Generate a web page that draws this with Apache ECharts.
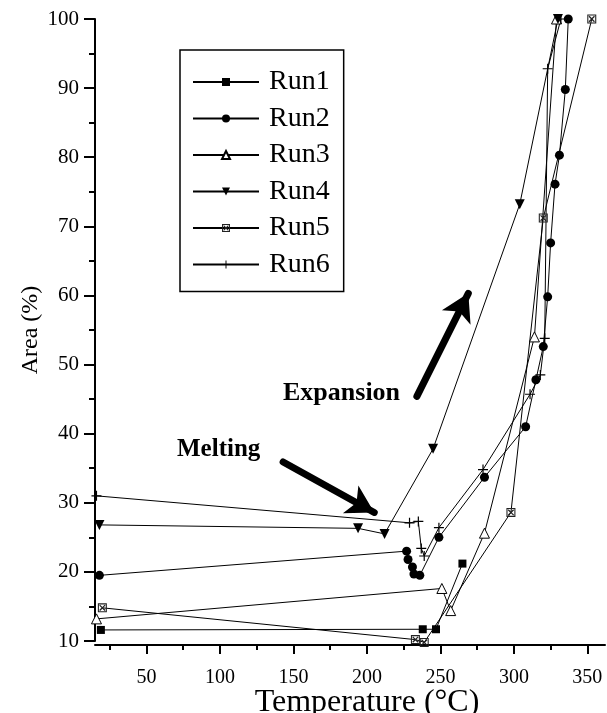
<!DOCTYPE html>
<html>
<head>
<meta charset="utf-8">
<script src="https://cdn.jsdelivr.net/npm/echarts@6/dist/echarts.min.js"></script>
<style>
  html, body { margin: 0; padding: 0; background: #fff; }
  #chart { width: 607px; height: 713px; }
</style>
</head>
<body>
<div id="chart"></div>
<script>
// temperatures (°C) and area (%) per run
const run1T = [19, 238, 247, 265];
const run1A = [11.6, 11.7, 11.7, 21.2];
const run2T = [18, 227, 228, 231, 232, 236, 249, 280, 308, 315, 320, 323, 325, 328, 331, 335, 337];
const run2A = [19.5, 23.0, 21.8, 20.7, 19.7, 19.5, 25.0, 33.7, 41.0, 47.8, 52.6, 59.8, 67.6, 76.1, 80.3, 89.8, 100];
const run3T = [16, 251, 257, 280, 314, 329];
const run3A = [13.2, 17.6, 14.4, 25.6, 54.0, 100];
const run4T = [18, 194, 212, 245, 304, 330];
const run4A = [26.8, 26.3, 25.5, 37.8, 73.2, 100];
const run5T = [20, 233, 239, 298, 320, 353];
const run5A = [14.8, 10.2, 9.8, 28.6, 71.2, 100];
const run6T = [16, 229, 235, 237, 239, 249, 279, 311, 318, 321, 323, 332];
const run6A = [31.0, 27.1, 27.3, 23.4, 22.3, 26.4, 34.8, 45.7, 48.5, 53.8, 92.8, 100];

const runNames = ['Run1', 'Run2', 'Run3', 'Run4', 'Run5', 'Run6'];
const xMajorTicks = [50, 100, 150, 200, 250, 300, 350];
const xMinorTicks = [25, 75, 125, 175, 225, 275, 325];

// arrows: [from, to] in data coords
const meltArrow = [[143, 35.9], [205, 28.6]];
const expandArrow = [[234, 45.4], [269, 60.3]];

const FONT = '"Liberation Serif", "DejaVu Serif", serif';

function pairs(xs, ys) {
  return xs.map((x, i) => [x, ys[i]]);
}

const chart = echarts.init(document.getElementById('chart'));

const baseSeries = {
  type: 'line',
  clip: false,
  lineStyle: { color: '#000', width: 1 },
  itemStyle: { color: '#000' },
  emphasis: { disabled: true }
};

const plusPath = 'path://M4.4,0H5.6V4.4H10V5.6H5.6V10H4.4V5.6H0V4.4H4.4Z';
// hatched box: square ring with an X inside
const boxXPath = 'path://M0,0H10V10H0Z M1.2,1.2V8.8H8.8V1.2Z ' +
  'M1.5,2.5L2.5,1.5L5,4L7.5,1.5L8.5,2.5L6,5L8.5,7.5L7.5,8.5L5,6L2.5,8.5L1.5,7.5L4,5Z';

const option = {
  backgroundColor: '#fff',
  animation: false,
  grid: {
    left: 95,
    right: 2,
    top: 19,
    bottom: 72,
    outerBoundsMode: 'none'
  },
  legend: {
    data: runNames,
    orient: 'vertical',
    left: 180,
    top: 50,
    padding: [18, 14, 13, 12],
    itemWidth: 66,
    itemHeight: 10,
    itemGap: 8.5,
    borderColor: '#000',
    borderWidth: 1.5,
    textStyle: { fontFamily: FONT, fontSize: 28, lineHeight: 28, color: '#000', padding: [0, 0, 0, 5] }
  },
  xAxis: [
    {
      type: 'value',
      min: 15,
      max: 362,
      offset: 4,
      name: 'Temperature (°C)',
      nameLocation: 'middle',
      nameGap: 42,
      nameMoveOverlap: false,
      nameTextStyle: { fontFamily: FONT, fontSize: 32, color: '#000', padding: [0, 0, 0, 34] },
      axisLine: { onZero: false, lineStyle: { color: '#000', width: 2 } },
      axisTick: { customValues: xMajorTicks, length: 9, lineStyle: { color: '#000', width: 2 } },
      axisLabel: { customValues: xMajorTicks, margin: 23, fontFamily: FONT, fontSize: 20, color: '#000' },
      splitLine: { show: false }
    },
    {
      type: 'value',
      min: 15,
      max: 362,
      position: 'bottom',
      offset: 4,
      axisLine: { show: false },
      axisTick: { customValues: xMinorTicks, length: 5, lineStyle: { color: '#000', width: 2 } },
      axisLabel: { show: false },
      splitLine: { show: false }
    }
  ],
  yAxis: {
    type: 'value',
    min: 10,
    max: 100,
    interval: 10,
    name: 'Area (%)',
    nameLocation: 'middle',
    nameGap: 52,
    nameMoveOverlap: false,
    nameTextStyle: { fontFamily: FONT, fontSize: 24, color: '#000' },
    axisLine: { show: true, lineStyle: { color: '#000', width: 2 } },
    axisTick: { show: true, length: 11, lineStyle: { color: '#000', width: 2 } },
    minorTick: { show: true, splitNumber: 2, length: 6, lineStyle: { color: '#000', width: 2 } },
    axisLabel: { margin: 16, fontFamily: FONT, fontSize: 21, color: '#000' },
    splitLine: { show: false }
  },
  series: [
    Object.assign({}, baseSeries, {
      name: 'Run1', data: pairs(run1T, run1A), symbol: 'rect', symbolSize: 8
    }),
    Object.assign({}, baseSeries, {
      name: 'Run2', data: pairs(run2T, run2A), symbol: 'circle', symbolSize: 9
    }),
    Object.assign({}, baseSeries, {
      name: 'Run3', data: pairs(run3T, run3A), symbol: 'triangle', symbolSize: 10,
      itemStyle: { color: '#fff', borderColor: '#000', borderWidth: 1 }
    }),
    Object.assign({}, baseSeries, {
      name: 'Run4', data: pairs(run4T, run4A), symbol: 'triangle', symbolRotate: 180, symbolSize: 10
    }),
    Object.assign({}, baseSeries, {
      name: 'Run5', data: pairs(run5T, run5A), symbol: boxXPath, symbolSize: 9,
      itemStyle: { color: '#222' }
    }),
    Object.assign({}, baseSeries, {
      name: 'Run6', data: pairs(run6T, run6A), symbol: plusPath, symbolSize: 10,
      markLine: {
        silent: true,
        animation: false,
        symbol: ['none', 'arrow'],
        symbolSize: [24, 27],
        label: { show: false },
        lineStyle: { color: '#000', width: 7, type: 'solid', cap: 'round' },
        data: [
          [{ coord: meltArrow[0] }, { coord: meltArrow[1] }],
          [{ coord: expandArrow[0] }, { coord: expandArrow[1] }]
        ]
      }
    })
  ],
  graphic: [
    {
      type: 'text', left: 177, top: 437,
      style: { text: 'Melting', font: 'bold 25px ' + FONT, fill: '#000' }
    },
    {
      type: 'text', left: 283, top: 380,
      style: { text: 'Expansion', font: 'bold 26px ' + FONT, fill: '#000' }
    }
  ]
};

chart.setOption(option);
</script>
</body>
</html>
